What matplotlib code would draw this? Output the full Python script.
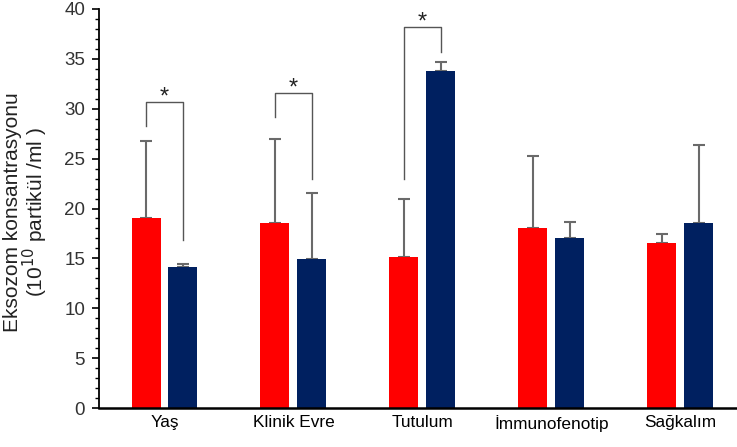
import matplotlib
matplotlib.use("Agg")
import matplotlib.pyplot as plt
import numpy as np
from matplotlib.ticker import MultipleLocator

plt.rcParams['font.family'] = ['Liberation Sans', 'DejaVu Sans']

categories = ["Yaş", "Klinik Evre", "Tutulum", "İmmunofenotip", "Sağkalım"]
red_values = [19.0, 18.5, 15.1, 18.0, 16.5]
red_errors = [7.8, 8.5, 5.9, 7.3, 0.9]
blue_values = [14.1, 14.9, 33.8, 17.0, 18.5]
blue_errors = [0.3, 6.7, 0.9, 1.6, 7.9]

# significance brackets: (group index, left bottom, top, right bottom)
brackets = [(0, 28.3, 30.7, 16.8), (1, 29.2, 31.6, 23.0), (2, 23.0, 38.2, 35.7)]

fig = plt.figure(figsize=(7.37, 4.47), dpi=100)
ax = fig.add_axes([0.1343, 0.0872, 0.8657, 0.8927])

x = np.arange(len(categories))
w = 0.225
off = 0.143
red = "#FF0000"
blue = "#002060"
ecol = "#6a6a6a"

ax.bar(x - off, red_values, w, color=red, zorder=2)
ax.bar(x + off, blue_values, w, color=blue, zorder=2)
ax.errorbar(x - off, red_values, yerr=[np.zeros(len(x)), red_errors], fmt="none",
            ecolor=ecol, elinewidth=1.5, capsize=4, capthick=1.5, zorder=1)
ax.errorbar(x + off, blue_values, yerr=[np.zeros(len(x)), blue_errors], fmt="none",
            ecolor=ecol, elinewidth=1.5, capsize=4, capthick=1.5, zorder=1)

for gi, lb, top, rb in brackets:
    xl, xr = gi - off, gi + off
    ax.plot([xl, xl, xr, xr], [lb, top, top, rb], color="#555555", lw=1.0, zorder=3,
            clip_on=False)
    ax.text(gi, top - 0.7, "*", ha="center", va="bottom", fontsize=17, color="#222222")

ax.set_xlim(-0.508, 4.44)
ax.set_ylim(0, 40)
ax.set_xticks(x)
ax.set_xticklabels(categories, fontsize=12.4)
ax.tick_params(axis="x", length=0, pad=5)
ax.yaxis.set_major_locator(MultipleLocator(5))
ax.yaxis.set_minor_locator(MultipleLocator(1))
ax.tick_params(axis="y", which="major", length=5, width=1.2, labelsize=13.5,
               labelcolor="#333333", pad=5)
ax.tick_params(axis="y", which="minor", length=3, width=1.0)
for s in ["top", "right"]:
    ax.spines[s].set_visible(False)
ax.spines["left"].set_linewidth(1.3)
ax.spines["bottom"].set_linewidth(1.8)

ax.set_ylabel("Eksozom konsantrasyonu\n(10$^{10}$ partikül /ml )", fontsize=15,
              linespacing=0.95, color="#222222")
ax.yaxis.set_label_coords(-0.077, 0.49)

fig.savefig("out.png", dpi=100)
